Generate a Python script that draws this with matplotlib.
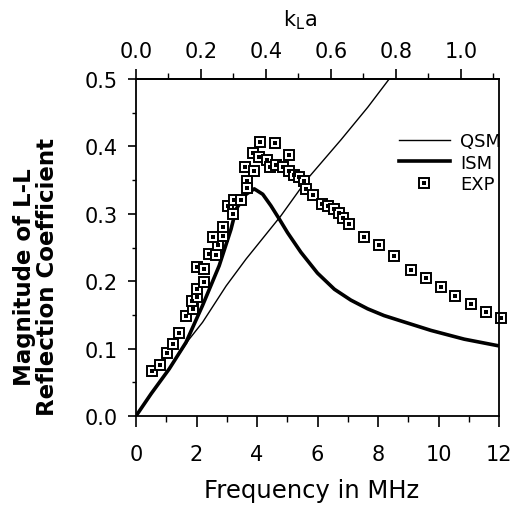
import matplotlib
matplotlib.use("Agg")
import matplotlib.pyplot as plt
from matplotlib.ticker import MultipleLocator, FixedLocator, FormatStrFormatter
from matplotlib.legend_handler import HandlerTuple
from matplotlib.lines import Line2D

# ---------------------------------------------------------
# Data (frequency in MHz, |R|)
# ---------------------------------------------------------
qsm_f = [0.0, 0.5, 1.0, 1.76, 2.2, 2.98, 3.64, 3.91, 4.79, 5.67, 6.78, 7.66, 8.37]
qsm_r = [0.0, 0.032, 0.064, 0.114, 0.139, 0.193, 0.233, 0.248, 0.297, 0.352, 0.41, 0.458, 0.50]

ism_f = [0.0, 0.5, 1.1, 1.65, 2.2, 2.75, 3.14, 3.31, 3.64, 3.91, 4.19, 4.46, 4.74,
         5.01, 5.45, 6.0, 6.56, 7.1, 7.66, 8.2, 8.76, 9.75, 10.85, 12.0]
ism_r = [0.0, 0.033, 0.070, 0.109, 0.164, 0.223, 0.277, 0.307, 0.329, 0.337, 0.329,
         0.312, 0.292, 0.272, 0.243, 0.212, 0.188, 0.172, 0.159, 0.149, 0.141,
         0.127, 0.114, 0.104]

exp_f = [0.53, 0.79, 1.02, 1.23, 1.43, 1.65, 1.87, 1.85, 2.02, 2.02, 2.26, 2.02,
         2.26, 2.42, 2.64, 2.70, 2.55, 2.89, 2.87, 3.03, 3.22, 3.25, 3.47, 3.60,
         3.66, 3.66, 3.86, 3.89, 4.08, 4.10, 4.32, 4.43, 4.60, 4.63, 4.85, 5.07,
         5.07, 5.23, 5.40, 5.57, 5.62, 5.86, 6.15, 6.34, 6.56, 6.72, 6.83, 7.05,
         7.55, 8.04, 8.54, 9.09, 9.59, 10.08, 10.56, 11.07, 11.57, 12.05]
exp_r = [0.067, 0.075, 0.093, 0.107, 0.123, 0.148, 0.159, 0.171, 0.176, 0.188,
         0.199, 0.221, 0.218, 0.240, 0.239, 0.253, 0.265, 0.267, 0.280, 0.311,
         0.300, 0.320, 0.320, 0.370, 0.349, 0.339, 0.390, 0.363, 0.385, 0.406,
         0.380, 0.369, 0.405, 0.372, 0.369, 0.387, 0.364, 0.358, 0.354, 0.349,
         0.337, 0.328, 0.315, 0.311, 0.307, 0.301, 0.294, 0.285, 0.265, 0.254,
         0.238, 0.217, 0.205, 0.192, 0.178, 0.166, 0.154, 0.145]

kla_ticks = [0.0, 0.2, 0.4, 0.6, 0.8, 1.0]
KLA_PER_MHZ = 0.0931  # k_L a = f * const

# ---------------------------------------------------------
# Figure
# ---------------------------------------------------------
fig = plt.figure(figsize=(5.14, 5.06), dpi=100)
ax = fig.add_axes([136 / 514, 1 - 417 / 506, 363 / 514, 337 / 506])

ax.plot(qsm_f, qsm_r, color="black", lw=1.0)
ax.plot(ism_f, ism_r, color="black", lw=2.6, solid_capstyle="butt")
ax.plot(exp_f, exp_r, ls="none", marker="s", ms=7.5, mfc="white",
        mec="black", mew=1.4, clip_on=False)
ax.plot(exp_f, exp_r, ls="none", marker="s", ms=2.2, mfc="black",
        mec="black", mew=0, clip_on=False)

ax.set_xlim(0, 12)
ax.set_ylim(0, 0.5)

for s in ax.spines.values():
    s.set_linewidth(1.3)

ax.xaxis.set_major_locator(MultipleLocator(2))
ax.xaxis.set_minor_locator(MultipleLocator(1))
ax.yaxis.set_major_locator(MultipleLocator(0.1))
ax.yaxis.set_minor_locator(MultipleLocator(0.05))
ax.yaxis.set_major_formatter(FormatStrFormatter("%.1f"))
ax.tick_params(axis="x", which="major", direction="out", length=8, width=1.2,
               pad=12, labelsize=15)
ax.tick_params(axis="x", which="minor", direction="out", length=4, width=1.0)
ax.tick_params(axis="y", which="major", direction="out", length=6, width=1.2,
               pad=7, labelsize=15)
ax.tick_params(axis="y", which="minor", direction="out", length=3, width=1.0)

# top axis in k_L a
sec = ax.secondary_xaxis("top", functions=(lambda f: f * KLA_PER_MHZ,
                                           lambda k: k / KLA_PER_MHZ))
sec.xaxis.set_major_locator(FixedLocator(kla_ticks))
sec.xaxis.set_minor_locator(FixedLocator([0.1, 0.3, 0.5, 0.7, 0.9, 1.1]))
sec.xaxis.set_major_formatter(FormatStrFormatter("%.1f"))
sec.tick_params(axis="x", which="major", direction="out", length=7, width=1.2,
                pad=6, labelsize=15)
sec.tick_params(axis="x", which="minor", direction="out", length=4, width=1.0)
sec.spines["top"].set_linewidth(1.3)

fig.text(300 / 514, 1 - 20 / 506, r"k$_\mathregular{L}$a", ha="center",
         va="center", fontsize=15)
fig.text(312 / 514, 1 - 491 / 506, "Frequency in MHz", ha="center",
         va="center", fontsize=17.5)
fig.text(36 / 514, 1 - 277 / 506, "Magnitude of L-L\nReflection Coefficient",
         rotation=90, ha="center", va="center", multialignment="center",
         fontsize=16.5, fontweight="bold", linespacing=1.0)

# legend
sq = Line2D([], [], ls="none", marker="s", ms=7.5, mfc="white", mec="black", mew=1.4)
dot = Line2D([], [], ls="none", marker="s", ms=2.2, mfc="black", mec="black", mew=0)
h_qsm = Line2D([], [], color="black", lw=1.0)
h_ism = Line2D([], [], color="black", lw=2.6)
leg = ax.legend([h_qsm, h_ism, (sq, dot)], ["QSM", "ISM", "EXP"],
                handler_map={tuple: HandlerTuple(ndivide=1, pad=0)},
                loc="upper left", bbox_to_anchor=(390 / 514, 1 - 124 / 506),
                bbox_transform=fig.transFigure, frameon=False, borderpad=0,
                handlelength=2.8, handletextpad=0.6, labelspacing=0.2,
                prop={"family": ["Liberation Sans Narrow", "DejaVu Sans"], "size": 13})

fig.savefig("out.png", dpi=100)
